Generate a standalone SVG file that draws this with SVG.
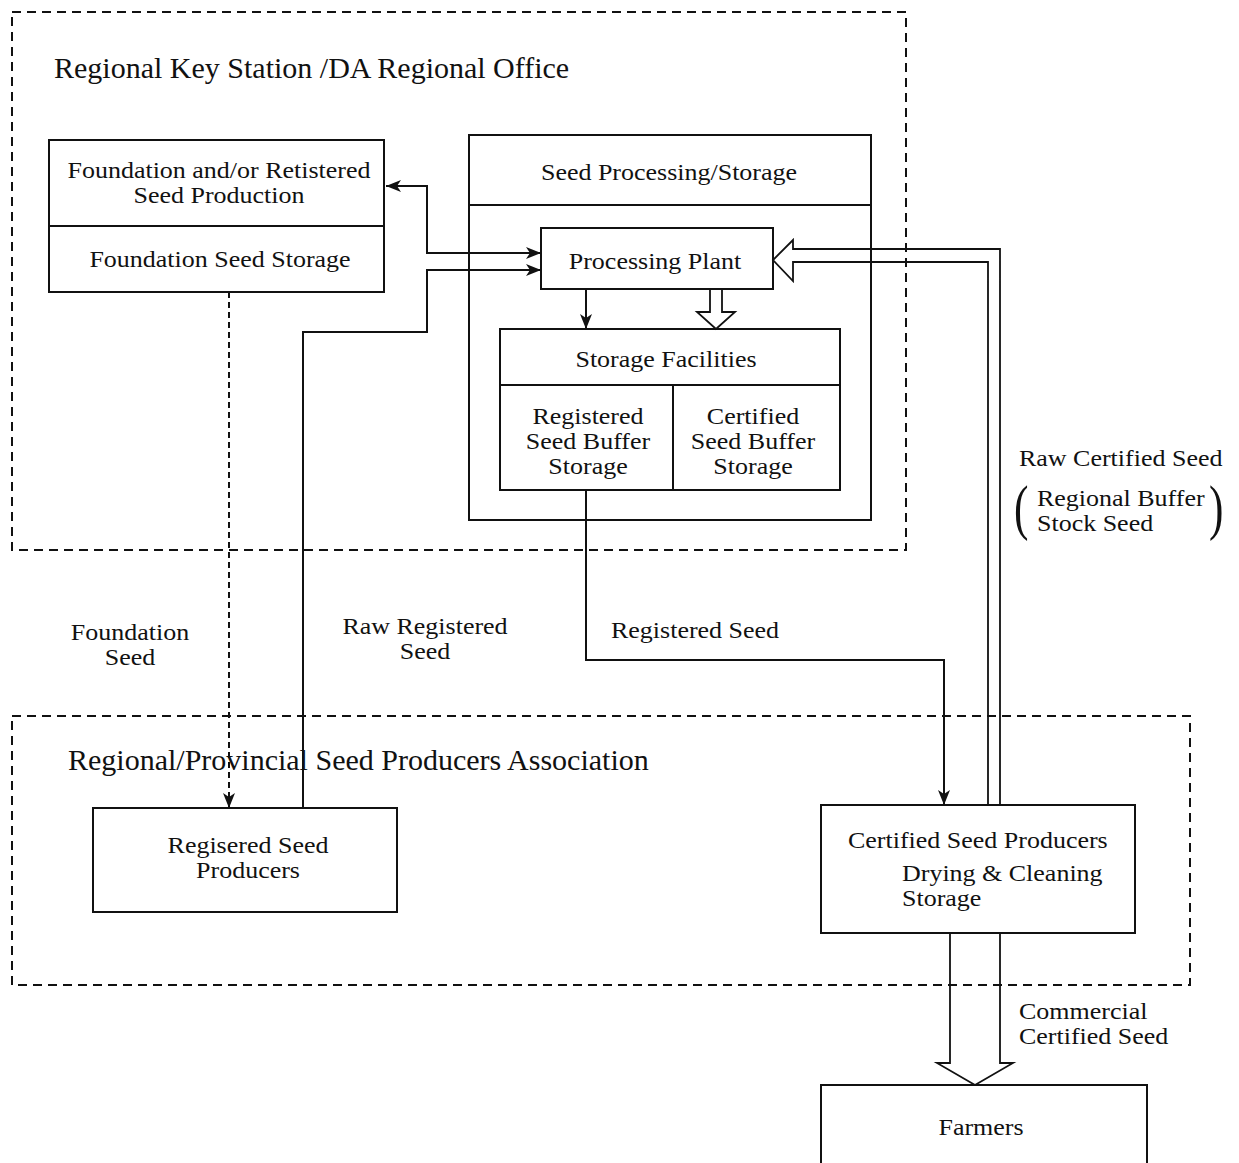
<svg xmlns="http://www.w3.org/2000/svg" width="1239" height="1163" viewBox="0 0 1239 1163">
<defs>
<style>
text{font-family:"Liberation Serif","Times New Roman",serif;fill:#111;font-size:22.5px}
.t{font-size:30px}
.c{text-anchor:middle}
.p{font-size:62px}
.box{fill:#fff;stroke:#111;stroke-width:2}
.dash{fill:none;stroke:#111;stroke-width:2;stroke-dasharray:9 6}
.ln{fill:none;stroke:#111;stroke-width:2}
.hol{fill:none;stroke:#111;stroke-width:1.8;stroke-linejoin:miter}
</style>
<marker id="ah" markerUnits="userSpaceOnUse" markerWidth="16" markerHeight="12" refX="15" refY="6" orient="auto-start-reverse">
<path d="M0,0 L15,6 L0,12 L4,6 z" fill="#111"/>
</marker>
</defs>
<rect width="1239" height="1163" fill="#fff"/>

<g id="region-office">
<rect class="dash" x="12" y="12" width="894" height="538"/>
<text class="t" x="54" y="78">Regional Key Station /DA Regional Office</text>
</g>
<g id="association">
<rect class="dash" x="12" y="716" width="1178" height="269"/>
<text class="t" x="68" y="770">Regional/Provincial Seed Producers Association</text>
</g>

<g id="foundation-box">
<rect class="box" x="49" y="140" width="335" height="152"/>
<line class="ln" x1="49" y1="226" x2="384" y2="226"/>
<text class="c" transform="translate(219,178) scale(1.155,1)"><tspan x="0">Foundation and/or Retistered</tspan><tspan x="0" dy="25">Seed Production</tspan></text>
<text class="c" transform="translate(220,267) scale(1.155,1)">Foundation Seed Storage</text>
</g>

<g id="seed-processing">
<rect class="box" x="469" y="135" width="402" height="385"/>
<line class="ln" x1="469" y1="205" x2="871" y2="205"/>
<text class="c" transform="translate(669,180) scale(1.155,1)">Seed Processing/Storage</text>
</g>

<g id="processing-plant">
<rect class="box" x="541" y="228" width="232" height="61"/>
<text class="c" transform="translate(655,269) scale(1.155,1)">Processing Plant</text>
</g>

<g id="storage-facilities">
<rect class="box" x="500" y="329" width="340" height="161"/>
<line class="ln" x1="500" y1="385" x2="840" y2="385"/>
<line class="ln" x1="673" y1="385" x2="673" y2="490"/>
<text class="c" transform="translate(666,367) scale(1.155,1)">Storage Facilities</text>
<text class="c" transform="translate(588,424) scale(1.155,1)"><tspan x="0">Registered</tspan><tspan x="0" dy="25">Seed Buffer</tspan><tspan x="0" dy="25.5">Storage</tspan></text>
<text class="c" transform="translate(753,424) scale(1.155,1)"><tspan x="0">Certified</tspan><tspan x="0" dy="25">Seed Buffer</tspan><tspan x="0" dy="25.5">Storage</tspan></text>
</g>

<g id="registered-producers">
<rect class="box" x="93" y="808" width="304" height="104"/>
<text class="c" transform="translate(248,853) scale(1.155,1)"><tspan x="0">Regisered Seed</tspan><tspan x="0" dy="25.5">Producers</tspan></text>
</g>

<g id="certified-producers">
<rect class="box" x="821" y="805" width="314" height="128"/>
<text transform="translate(848,848) scale(1.155,1)">Certified Seed Producers</text>
<text transform="translate(902,881) scale(1.155,1)"><tspan x="0">Drying &amp; Cleaning</tspan><tspan x="0" dy="25">Storage</tspan></text>
</g>

<g id="farmers">
<rect class="box" x="821" y="1085" width="326" height="100"/>
<text class="c" transform="translate(981,1135) scale(1.155,1)">Farmers</text>
</g>

<g id="connectors">
<path class="ln" d="M386,186 H427 V253 H541" marker-start="url(#ah)" marker-end="url(#ah)"/>
<path class="ln" d="M303,808 V332 H427 V270 H541" marker-end="url(#ah)"/>
<path class="ln" d="M229,292 V808" stroke-dasharray="6 4" marker-end="url(#ah)"/>
<path class="ln" d="M586,289 V329" marker-end="url(#ah)"/>
<path class="hol" d="M710,289 V312 H697 L716,329 L735,312 H722 V289"/>
<path class="hol" d="M1000,805 V249 H793 V240 L773,260 L793,281 V262 H988 V805"/>
<path class="ln" d="M586,490 V660 H944 V805" marker-end="url(#ah)"/>
<path class="hol" d="M950,933 V1063 H937 L975,1085 L1013,1063 H1000 V933"/>
</g>

<g id="labels">
<text transform="translate(1019,466) scale(1.155,1)">Raw Certified Seed</text>
<text class="p" transform="translate(1014,528) scale(0.7,1)">(</text>
<text transform="translate(1037,506) scale(1.155,1)"><tspan x="0">Regional Buffer</tspan><tspan x="0" dy="25.5">Stock Seed</tspan></text>
<text class="p" transform="translate(1209,528) scale(0.7,1)">)</text>
<text class="c" transform="translate(130,640) scale(1.155,1)"><tspan x="0">Foundation</tspan><tspan x="0" dy="25">Seed</tspan></text>
<text class="c" transform="translate(425,634) scale(1.155,1)"><tspan x="0">Raw Registered</tspan><tspan x="0" dy="25.5">Seed</tspan></text>
<text transform="translate(611,638) scale(1.155,1)">Registered Seed</text>
<text transform="translate(1019,1019) scale(1.155,1)"><tspan x="0">Commercial</tspan><tspan x="0" dy="25.5">Certified Seed</tspan></text>
</g>
</svg>
